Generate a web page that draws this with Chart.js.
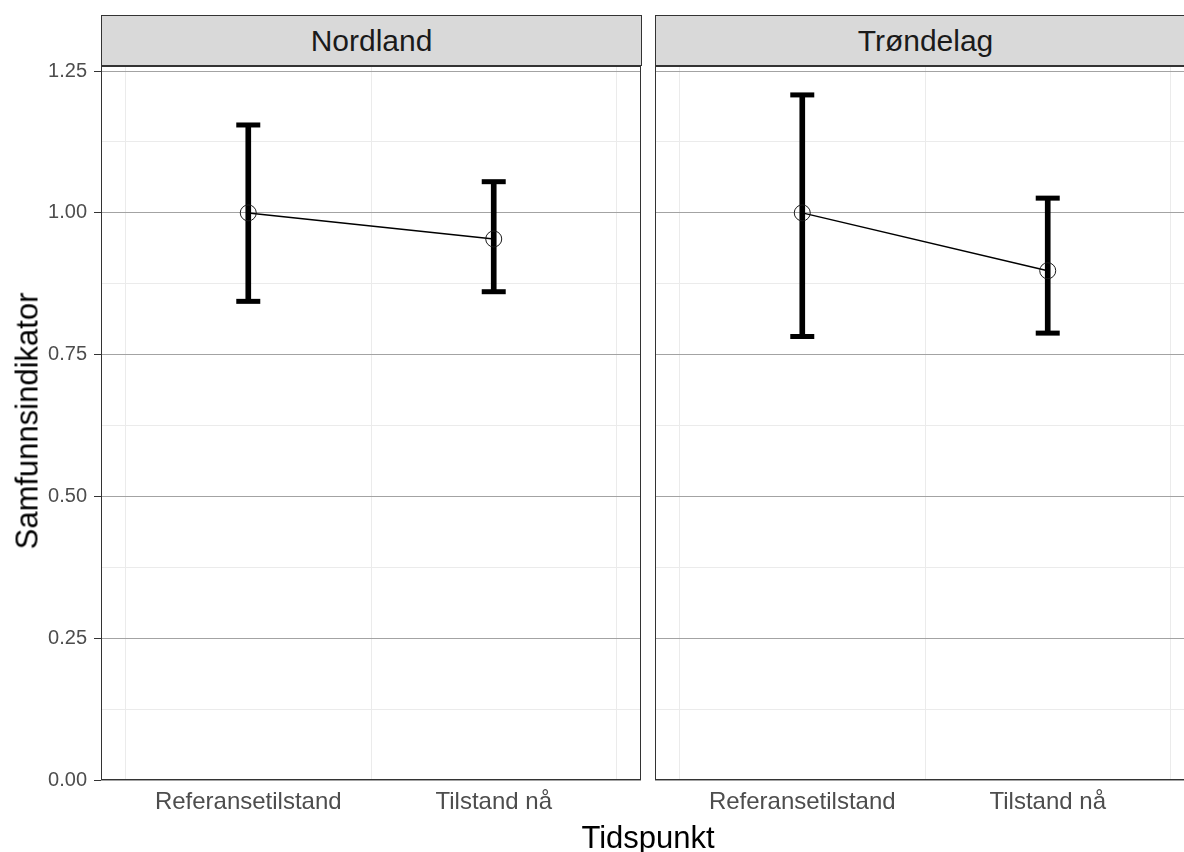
<!DOCTYPE html>
<html>
<head>
<meta charset="utf-8">
<script src="https://cdn.jsdelivr.net/npm/chart.js@4.4.1/dist/chart.umd.min.js"></script>
<style>
html,body{margin:0;padding:0;width:1184px;height:852px;overflow:hidden;background:#fff;font-family:"Liberation Sans",Arial,sans-serif;}
.wrap{position:relative;width:1184px;height:852px;overflow:hidden;}
canvas{position:absolute;top:0;}
.strip{position:absolute;top:15px;height:51px;box-sizing:border-box;border:1px solid #333;background:#d9d9d9;color:#1a1a1a;font-size:30px;display:flex;align-items:center;justify-content:center;white-space:nowrap;}
.atitle{position:absolute;font-size:31px;line-height:31px;color:#000;white-space:nowrap;}
</style>
</head>
<body>
<div class="wrap" id="wrap">
<canvas id="c0" width="661" height="852" style="left:0px;width:661px;height:852px"></canvas>
<canvas id="c1" width="580" height="852" style="left:635px;width:580px;height:852px"></canvas>
<div class="atitle" id="ytitle" style="left:27px;top:421px;transform:translate(-50%,-50%) rotate(-90deg);">Samfunnsindikator</div>
<div class="atitle" id="xtitle" style="left:648px;top:822px;transform:translateX(-50%);">Tidspunkt</div>
</div>
<script>
// ---- data ----
const categories = ['Referansetilstand', 'Tilstand nå'];
const facets = ['Nordland', 'Trøndelag'];
const nordlandMean  = [1.000, 0.954];
const nordlandLower = [0.844, 0.861];
const nordlandUpper = [1.155, 1.055];
const trondelagMean  = [1.000, 0.898];
const trondelagLower = [0.782, 0.788];
const trondelagUpper = [1.208, 1.026];
const yTicks = [0, 0.25, 0.5, 0.75, 1.0, 1.25];
const yTickLabels = ['0.00', '0.25', '0.50', '0.75', '1.00', '1.25'];
const yMinorTicks = [0.125, 0.375, 0.625, 0.875, 1.125];
const xMinorTicks = [0.5, 1.5, 2.5];

Chart.defaults.font.family = '"Liberation Sans", Arial, sans-serif';

const panelBorder = {
  id: 'panelBorder',
  afterDatasetsDraw(chart) {
    const {ctx, chartArea: a} = chart;
    ctx.save();
    ctx.strokeStyle = '#333333';
    ctx.lineWidth = 1;
    ctx.strokeRect(Math.round(a.left) + 0.5, Math.round(a.top) + 0.5,
                   Math.round(a.right - a.left) - 1, Math.round(a.bottom - a.top) - 1);
    ctx.restore();
  }
};

function makeChart(id, mean, lower, upper, showY, pad) {
  const xs = categories.map((c, i) => i + 1);
  const caps = [];
  xs.forEach((x, i) => { caps.push({x: x, y: lower[i]}); caps.push({x: x, y: upper[i]}); });
  return new Chart(document.getElementById(id), {
    type: 'bar',
    data: {
      datasets: [
        {
          type: 'line',
          data: xs.map((x, i) => ({x: x, y: mean[i]})),
          borderColor: '#000',
          borderWidth: 1.5,
          tension: 0,
          fill: false,
          pointStyle: 'circle',
          pointRadius: 8,
          pointBorderWidth: 1,
          pointBorderColor: '#1a1a1a',
          pointBackgroundColor: 'rgba(0,0,0,0)'
        },
        {
          type: 'scatter',
          data: caps,
          showLine: false,
          pointStyle: 'line',
          pointRadius: 12,
          pointBorderWidth: 5,
          pointBorderColor: '#000',
          borderColor: '#000'
        },
        {
          type: 'bar',
          data: xs.map((x, i) => ({x: x, y: [lower[i], upper[i]]})),
          backgroundColor: '#000',
          borderWidth: 0,
          barThickness: 5
        }
      ]
    },
    options: {
      responsive: false,
      animation: false,
      devicePixelRatio: 1,
      events: [],
      layout: {padding: pad},
      plugins: {legend: {display: false}, tooltip: {enabled: false}, title: {display: false}},
      scales: {
        x: {
          type: 'linear',
          min: 0.4, max: 2.6,
          bounds: 'data',
          offset: false,
          afterBuildTicks: s => {
            s.ticks = [...xMinorTicks, ...xs].sort((a, b) => a - b).map(v => ({value: v}));
          },
          afterFit: s => { s.height = 72; s.paddingLeft = 0; s.paddingRight = 0; },
          ticks: {
            autoSkip: false, maxRotation: 0, minRotation: 0,
            padding: 8, color: '#4d4d4d', font: {size: 24},
            callback: v => Number.isInteger(v) ? categories[v - 1] : ''
          },
          grid: {
            offset: false,
            drawTicks: false,
            lineWidth: 1,
            color: ctx => (ctx.tick && Number.isInteger(ctx.tick.value)) ? 'rgba(0,0,0,0)' : '#ebebeb'
          },
          border: {display: false}
        },
        y: {
          type: 'linear',
          min: 0, max: 1.259,
          bounds: 'data',
          afterBuildTicks: s => {
            s.ticks = [...yTicks, ...yMinorTicks].sort((a, b) => a - b).map(v => ({value: v}));
          },
          afterFit: s => { s.width = showY ? 101 : 0; s.paddingTop = 0; s.paddingBottom = 0; },
          ticks: {
            display: showY, autoSkip: false,
            padding: 7, color: '#4d4d4d', font: {size: 20},
            callback: v => { const i = yTicks.indexOf(v); return i >= 0 ? yTickLabels[i] : ''; }
          },
          grid: {
            drawTicks: showY,
            tickLength: 7,
            tickWidth: 1,
            lineWidth: 1,
            tickColor: ctx => (ctx.tick && yTicks.includes(ctx.tick.value)) ? '#333333' : 'rgba(0,0,0,0)',
            color: ctx => (ctx.tick && yTicks.includes(ctx.tick.value)) ? '#a3a3a3' : '#ebebeb'
          },
          border: {display: false}
        }
      }
    },
    plugins: [panelBorder]
  });
}

const charts = [
  makeChart('c0', nordlandMean, nordlandLower, nordlandUpper, true, {left: 0, top: 66, right: 20, bottom: 0}),
  makeChart('c1', trondelagMean, trondelagLower, trondelagUpper, false, {left: 20, top: 66, right: 20, bottom: 0})
];

// facet strips positioned over each chart's plot area
const wrap = document.getElementById('wrap');
charts.forEach((ch, k) => {
  const a = ch.chartArea;
  const offset = parseFloat(ch.canvas.style.left);
  const d = document.createElement('div');
  d.className = 'strip';
  d.textContent = facets[k];
  d.style.left = (offset + a.left) + 'px';
  d.style.width = (a.right - a.left + 1) + 'px';
  wrap.appendChild(d);
});
</script>
</body>
</html>
